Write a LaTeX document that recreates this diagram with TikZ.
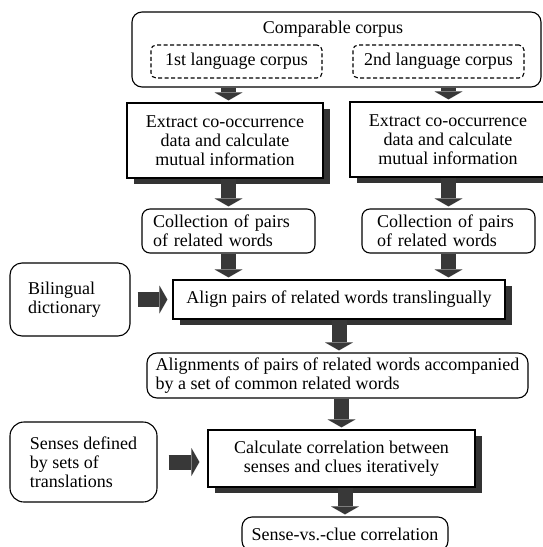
\documentclass[tikz,border=0pt]{standalone}
\usepackage{fontspec}
\setmainfont{Liberation Serif}
\usetikzlibrary{arrows.meta,shadows}

\begin{document}
\begin{tikzpicture}[x=1pt,y=-1pt,
  font=\fontsize{18}{19}\selectfont,
  every node/.style={line width=1.1pt, inner sep=0pt},
  rbox/.style={draw, rounded corners=10pt},
  dbox/.style={draw, rounded corners=5pt, dash pattern=on 4pt off 2.5pt},
  sbox/.style={draw, fill=white, drop shadow={shadow xshift=7pt, shadow yshift=-6pt, fill=black!80, opacity=1}},
  fat/.style={draw=black!78, line width=15pt, shorten >=2pt, -{Triangle[width=28pt,length=8pt,line width=0pt]}}]
  \useasboundingbox (0,0) rectangle (543,547);
  \clip (0,0) rectangle (543,547);
  % comparable corpus
  \node[rbox, minimum width=409pt, minimum height=75pt] (cc) at (336.5,49.5) {};
  \node (cctitle) at (333,28.8) {Comparable corpus};
  \node[dbox, minimum width=171pt, minimum height=33pt] (lang1) at (236.5,61.5) {1st language corpus};
  \node[dbox, minimum width=171pt, minimum height=33pt] (lang2) at (438.5,61.5) {2nd language corpus};
  % extraction
  \node[sbox, minimum width=196pt, minimum height=75pt, align=center] (ext1) at (225,140.5) {Extract co-occurrence\\data and calculate\\mutual information};
  \node[sbox, minimum width=196pt, minimum height=75pt, align=center] (ext2) at (448,139.5) {Extract co-occurrence\\data and calculate\\mutual information};
  % collections of pairs
  \node[rbox, rounded corners=8pt, text width=151pt, inner xsep=11pt, minimum height=44pt, align=left] (col1) at (228.5,231) {Collection of pairs\\of related words};
  \node[rbox, rounded corners=8pt, text width=143pt, inner xsep=15pt, minimum height=44pt, align=left] (col2) at (448.5,231) {Collection of pairs\\of related words};
  % bilingual dictionary
  \node[rbox, rounded corners=12pt, text width=84pt, inner xsep=18pt, minimum height=73pt, align=left] (dict) at (70,299.5) {Bilingual\\dictionary};
  % align
  \node[sbox, minimum width=332pt, minimum height=39pt] (align) at (339,299.5) {Align pairs of related words translingually};
  % alignments
  \node[rbox, minimum width=381pt, minimum height=45pt, align=left] (pairs) at (337.5,375.5) {Alignments of pairs of related words accompanied\\by a set of common related words};
  % senses
  \node[rbox, rounded corners=14pt, minimum width=147pt, minimum height=80pt, align=left] (senses) at (83.5,462) {Senses defined\\by sets of\\translations};
  % correlation
  \node[sbox, minimum width=267pt, minimum height=57pt, align=center] (calc) at (341.5,458.5) {Calculate correlation between\\senses and clues iteratively};
  \node[rbox, minimum width=206pt, minimum height=34pt] (result) at (345,534) {Sense-vs.-clue correlation};
  % arrows
  \draw[fat] (cc.south -| col1) -- (ext1.north -| col1);
  \draw[fat] (cc.south -| col2) -- (ext2.north -| col2);
  \draw[fat] (ext1.south -| col1) -- (col1.north);
  \draw[fat] (ext2.south -| col2) -- (col2.north);
  \draw[fat] (col1.south) -- (col1.south |- align.north);
  \draw[fat] (col2.south) -- (col2.south |- align.north);
  \draw[fat, shorten <=7pt, shorten >=5pt] (dict) -- (align);
  \draw[fat] (align.south) -- (align.south |- pairs.north);
  \draw[fat] (pairs.south -| calc) -- (calc.north);
  \draw[fat, shorten <=11pt, shorten >=8pt] (senses.east) -- (senses.east -| calc.west);
  \draw[fat] (calc.south -| result) -- (result.north);
\end{tikzpicture}
\end{document}
